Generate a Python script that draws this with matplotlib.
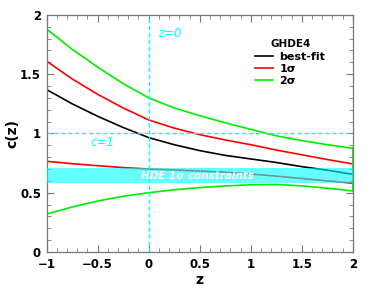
import numpy as np
import matplotlib.pyplot as plt
from matplotlib.ticker import MultipleLocator

# redshift grid and c(z) curves
z = [-1.0, -0.75, -0.5, -0.25, 0.0, 0.25, 0.5, 0.75, 1.0, 1.25, 1.5, 1.75, 2.0]
best_fit = [1.37, 1.25, 1.145, 1.05, 0.965, 0.905, 0.855, 0.815, 0.785, 0.755, 0.72, 0.69, 0.655]
sig1_upper = [1.61, 1.46, 1.33, 1.215, 1.114, 1.045, 0.99, 0.945, 0.905, 0.86, 0.82, 0.78, 0.743]
sig1_lower = [0.765, 0.745, 0.728, 0.712, 0.70, 0.692, 0.683, 0.672, 0.658, 0.64, 0.62, 0.60, 0.58]
sig2_upper = [1.88, 1.71, 1.56, 1.42, 1.30, 1.215, 1.15, 1.09, 1.035, 0.98, 0.94, 0.905, 0.875]
sig2_lower = [0.32, 0.38, 0.43, 0.47, 0.50, 0.525, 0.543, 0.557, 0.567, 0.57, 0.558, 0.538, 0.515]

hde_band = (0.585, 0.71)  # HDE 1 sigma constraint on c

plt.rcParams['font.family'] = 'DejaVu Sans'
plt.rcParams['font.weight'] = 'bold'

fig = plt.figure(figsize=(3.79, 2.92), dpi=100)
ax = fig.add_axes([0.123, 0.137, 0.808, 0.812])

ax.plot(z, best_fit, color='black', lw=1.2, label='best-fit')
ax.plot(z, sig1_upper, color='red', lw=1.2, label='1σ')
ax.plot(z, sig1_lower, color='red', lw=1.2)
ax.plot(z, sig2_upper, color='#00ee00', lw=1.2, label='2σ')
ax.plot(z, sig2_lower, color='#00ee00', lw=1.2)
# closing edge of the 2 sigma contour
ax.plot([z[-1], z[-1]], [sig2_lower[-1], sig2_upper[-1]], color='#00ee00', lw=1.3)

ax.axhspan(hde_band[0], hde_band[1], color='cyan', alpha=0.6, lw=0, zorder=3)
ax.axvline(0, color='cyan', ls=(0, (3, 2)), lw=1.0)
ax.axhline(1, color='cyan', ls=(0, (3, 2)), lw=1.0)

ax.text(0.09, 1.84, 'z=0', color='cyan', style='italic', fontweight='normal', fontsize=8.5, va='center')
ax.text(-0.57, 0.92, 'c=1', color='cyan', style='italic', fontweight='normal', fontsize=8.5, va='center')
ax.text(-0.075, 0.645, 'HDE 1σ constraints', color='white', style='italic', fontweight='bold',
        fontsize=7.5, va='center', zorder=4)

ax.set_xlim(-1, 2)
ax.set_ylim(0, 2)
ax.set_xticks([-1, -0.5, 0, 0.5, 1, 1.5, 2])
ax.set_xticklabels(['−1', '−0.5', '0', '0.5', '1', '1.5', '2'])
ax.set_yticks([0, 0.5, 1, 1.5, 2])
ax.set_yticklabels(['0', '0.5', '1', '1.5', '2'])
ax.xaxis.set_minor_locator(MultipleLocator(0.1))
ax.yaxis.set_minor_locator(MultipleLocator(0.1))
ax.tick_params(which='both', direction='in', top=True, right=True, color='#777777', labelsize=8.5, pad=4)
ax.tick_params(which='major', length=5, width=0.8)
ax.tick_params(which='minor', length=3, width=0.6)
for s in ax.spines.values():
    s.set_color('#777777')
    s.set_linewidth(0.9)

ax.set_xlabel('z', fontsize=10, fontweight='bold', labelpad=2)
ax.set_ylabel('c(z)', fontsize=10, fontweight='bold')
ax.yaxis.set_label_coords(-0.09, 0.5)

leg = ax.legend(title='GHDE4', loc='upper right', bbox_to_anchor=(0.925, 0.915), frameon=False,
                fontsize=8, title_fontproperties={'weight': 'bold', 'size': 7.5},
                handlelength=1.6, handletextpad=0.6, labelspacing=0.2, borderaxespad=0)
leg.set_zorder(5)

fig.savefig('out.png', dpi=100)
